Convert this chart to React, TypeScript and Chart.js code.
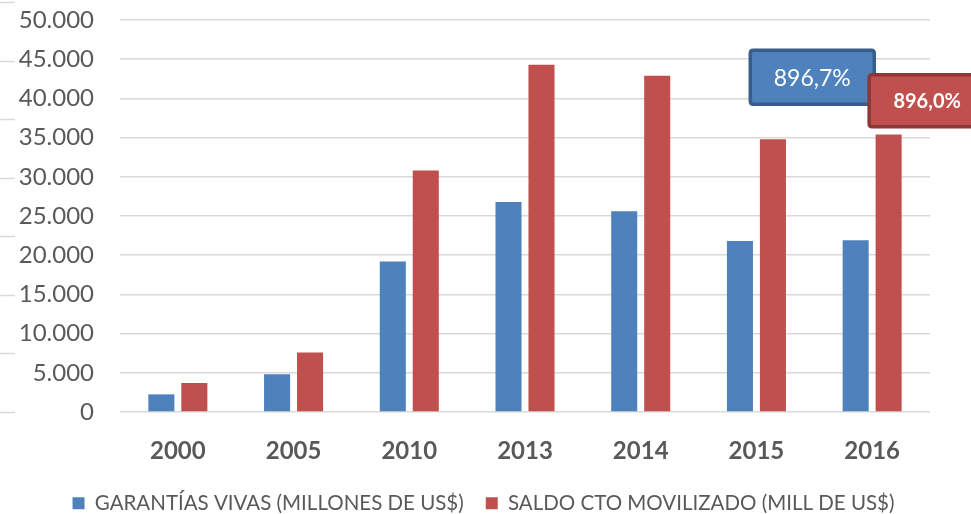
import React, { useEffect, useRef } from "react";
import { Chart, registerables } from "chart.js";

Chart.register(...registerables);

const categories = ["2000", "2005", "2010", "2013", "2014", "2015", "2016"];
const garantiasVivas = [2250, 4800, 19200, 26800, 25600, 21800, 21900];
const saldoMovilizado = [3700, 7600, 30800, 44300, 42900, 34800, 35400];
const seriesLabels = [
  "GARANTÍAS VIVAS (MILLONES DE US$)",
  "SALDO CTO MOVILIZADO (MILL DE US$)",
];
const annotationTexts = ["896,7%", "896,0%"];
const annotationValues = [42700, 39700];

const BLUE = "#4f81bd";
const RED = "#c0504d";
const TEXT = "#595959";
const FONT = "Lato, 'Open Sans', sans-serif";

function fmt(v: number) {
  return String(v).replace(/\B(?=(\d{3})+(?!\d))/g, ".");
}

function roundRect(ctx: CanvasRenderingContext2D, x: number, y: number, w: number, h: number, r: number) {
  ctx.beginPath();
  ctx.moveTo(x + r, y);
  ctx.lineTo(x + w - r, y);
  ctx.quadraticCurveTo(x + w, y, x + w, y + r);
  ctx.lineTo(x + w, y + h - r);
  ctx.quadraticCurveTo(x + w, y + h, x + w - r, y + h);
  ctx.lineTo(x + r, y + h);
  ctx.quadraticCurveTo(x, y + h, x, y + h - r);
  ctx.lineTo(x, y + r);
  ctx.quadraticCurveTo(x, y, x + r, y);
  ctx.closePath();
}

// faint stubs of gridlines visible at the left edge of the original image
const edgeStubs = {
  id: "edgeStubs",
  beforeDraw(chart: any) {
    const ctx: CanvasRenderingContext2D = chart.ctx;
    const bottom = chart.chartArea.bottom;
    const step = (chart.chartArea.bottom - chart.chartArea.top + 18) / 7;
    ctx.save();
    ctx.strokeStyle = "#d9d9d9";
    ctx.lineWidth = 1.5;
    for (let i = 0; i < 8; i++) {
      const y = Math.round(bottom - i * step) + 0.5;
      ctx.beginPath();
      ctx.moveTo(0, y);
      ctx.lineTo(15, y);
      ctx.stroke();
    }
    ctx.restore();
  },
};

// centre the legend on the whole canvas width rather than the padded area
const legendCenter = {
  id: "legendCenter",
  afterLayout(chart: any) {
    const lg = chart.legend;
    if (!lg) return;
    lg.left = 0;
    lg.right = chart.width - 4;
    lg.width = lg.right - lg.left;
  },
};

const annotationPlugin = {
  id: "boxes",
  afterDatasetsDraw(chart: any) {
    const ctx: CanvasRenderingContext2D = chart.ctx;
    const xs = chart.scales.x;
    const ys = chart.scales.y;
    const x2015 = xs.getPixelForValue(5);
    const x2016 = xs.getPixelForValue(6);
    ctx.save();
    {
      const cx = (x2015 + x2016) / 2 - 2;
      const cy = ys.getPixelForValue(annotationValues[0]);
      const w = 124, h = 54;
      roundRect(ctx, cx - w / 2, cy - h / 2, w, h, 3);
      ctx.fillStyle = BLUE;
      ctx.fill();
      ctx.lineWidth = 3.5;
      ctx.strokeStyle = "#385d8a";
      ctx.stroke();
      ctx.fillStyle = "#ffffff";
      ctx.font = "23px " + FONT;
      ctx.textAlign = "center";
      ctx.textBaseline = "middle";
      ctx.fillText(annotationTexts[0], cx, cy + 1);
    }
    {
      const left = x2016 - 3;
      const cy = ys.getPixelForValue(annotationValues[1]);
      const w = 110, h = 52;
      roundRect(ctx, left, cy - h / 2, w, h, 3);
      ctx.fillStyle = RED;
      ctx.fill();
      ctx.lineWidth = 3.5;
      ctx.strokeStyle = "#8c3836";
      ctx.stroke();
      ctx.fillStyle = "#ffffff";
      ctx.font = "bold 20px " + FONT;
      ctx.textAlign = "center";
      ctx.textBaseline = "middle";
      ctx.fillText(annotationTexts[1], left + 58, cy + 1);
    }
    ctx.restore();
  },
};

export default function App() {
  const ref = useRef<HTMLCanvasElement | null>(null);
  useEffect(() => {
    if (!ref.current) return;
    const chart = new Chart(ref.current, {
      type: "bar",
      data: {
        labels: categories,
        datasets: [
          { label: seriesLabels[0], data: garantiasVivas, backgroundColor: BLUE, borderWidth: 0 },
          { label: seriesLabels[1], data: saldoMovilizado, backgroundColor: RED, borderWidth: 0 },
        ],
      },
      options: {
        responsive: false,
        animation: false,
        maintainAspectRatio: false,
        layout: { padding: { top: 20, right: 41, left: 0, bottom: 0 } },
        datasets: {
          bar: { categoryPercentage: 0.57, barPercentage: 0.79 },
        },
        plugins: {
          tooltip: { enabled: false },
          legend: {
            position: "bottom",
            maxHeight: 43,
            labels: {
              color: TEXT,
              font: { family: FONT, size: 20.5 },
              boxWidth: 12,
              boxHeight: 12,
              padding: 22,
            },
          },
        },
        scales: {
          x: {
            grid: { display: false },
            border: { display: false },
            ticks: {
              color: TEXT,
              font: { family: FONT, size: 24, weight: "bold" },
              padding: 17,
            },
            afterFit(scale: any) {
              scale.height = 59;
            },
          },
          y: {
            min: 0,
            max: 50000,
            grid: { color: "#d9d9d9", lineWidth: 1.5, drawTicks: false },
            border: { display: false },
            ticks: {
              stepSize: 5000,
              color: TEXT,
              font: { family: FONT, size: 24 },
              padding: 26,
              callback: (v: any) => fmt(Number(v)),
            },
            afterFit(scale: any) {
              scale.width = 120;
              scale.paddingTop = 0;
              scale.paddingBottom = 0;
            },
          },
        },
      },
      plugins: [edgeStubs, legendCenter, annotationPlugin],
    } as any);
    return () => chart.destroy();
  }, []);
  return (
    <div style={{ position: "fixed", left: 0, top: 0, width: 971, height: 514, background: "#fff" }}>
      <canvas ref={ref} width={971} height={514} style={{ display: "block" }} />
    </div>
  );
}
